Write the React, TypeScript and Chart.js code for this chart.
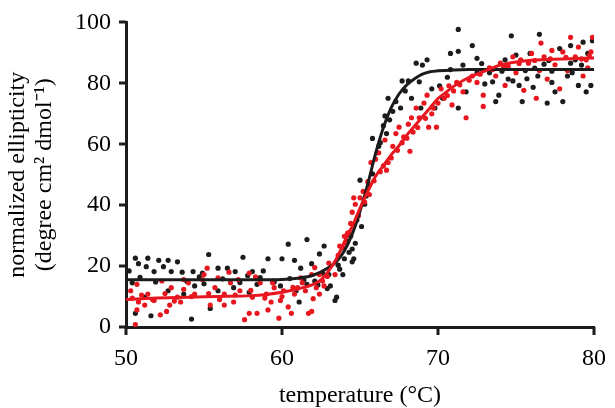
import React, { useEffect, useRef } from "react";
import { Chart, registerables } from "chart.js";

Chart.register(...registerables);

// ---- data ----
const xTicks = [50, 60, 70, 80];
const yTicks = [0, 20, 40, 60, 80, 100];

const blackTemps = [
  50.2, 50.6, 50.8, 51.4, 52.1, 52.7, 53.3, 51.3, 51.8, 52.4, 52.9, 53.6, 55.3, 54.3, 54.9, 55.9, 56.5, 57.0,
  57.5, 58.1, 58.8, 59.1, 60.0, 60.4, 60.8, 61.6, 61.2, 61.9, 62.4, 62.7, 50.4, 50.6, 51.6, 54.2, 55.4, 51.2,
  52.7, 53.7, 54.4, 55.9, 56.9, 57.9, 58.4, 59.4, 59.9, 60.9, 61.1, 61.6, 62.1, 62.6, 63.0, 63.1, 63.4, 63.5,
  63.6, 63.9, 64.0, 64.4, 64.5, 64.6, 64.2, 64.5, 64.8, 65.0, 65.3, 65.6, 65.8, 65.8, 66.1, 66.2, 66.5, 66.7,
  66.8, 66.6, 67.1, 67.3, 67.6, 67.7, 68.1, 68.6, 68.3, 68.9, 69.3, 69.6, 69.8, 70.1, 70.8, 70.3, 71.3, 71.3,
  70.8, 71.3, 71.8, 72.2, 72.5, 73.0, 73.3, 73.7, 73.9, 74.3, 74.5, 74.7, 75.0, 75.2, 75.4, 75.6, 75.9, 76.1,
  76.4, 76.5, 76.8, 77.0, 77.3, 77.5, 77.8, 78.0, 78.3, 78.5, 78.8, 79.0, 79.3, 79.5, 79.8, 79.9, 79.6, 78.5,
  77.3, 74.8, 72.5, 53.9, 55.0, 56.2, 57.3, 58.6, 59.5, 60.5, 61.4, 62.3, 62.9, 57.8, 54.7, 51.9, 50.9, 63.7,
  64.3, 64.7, 65.1, 65.4, 66.3, 66.9, 67.9, 68.8, 69.0, 70.6, 71.6, 72.8, 73.5, 74.1, 76.2, 77.1, 78.6, 79.2,
  75.7,
];
const blackValues = [
  18.4, 22.6, 20.8, 22.6, 21.9, 21.9, 21.4, 19.8, 18.2, 19.8, 18.2, 18.0, 23.8, 18.2, 17.7, 19.3, 19.3, 18.2,
  22.9, 18.2, 18.4, 22.4, 22.4, 27.2, 21.9, 28.7, 19.3, 20.8, 24.0, 26.6, 14.5, 4.5, 3.7, 2.6, 6.1, 9.8,
  11.9, 10.8, 13.5, 11.9, 12.9, 11.4, 14.0, 15.1, 13.5, 11.9, 8.2, 14.0, 15.1, 17.7, 17.2, 13.5, 8.7, 9.8,
  20.3, 17.2, 22.4, 29.8, 21.4, 22.4, 28.2, 25.6, 35.1, 48.2, 40.3, 46.6, 50.3, 61.9, 57.2, 59.3, 66.1, 63.5,
  75.1, 69.3, 70.8, 74.0, 71.9, 80.8, 80.8, 86.6, 75.1, 71.9, 87.7, 78.2, 71.9, 79.2, 89.8, 75.1, 97.7, 90.5,
  84.5, 71.9, 77.2, 92.4, 88.2, 79.8, 83.5, 74.0, 76.1, 87.7, 81.4, 95.6, 89.3, 79.3, 74.0, 84.2, 89.8, 78.7,
  82.4, 96.1, 86.3, 73.5, 80.3, 77.2, 91.4, 74.0, 82.4, 92.4, 87.7, 79.3, 93.5, 77.2, 79.3, 94.0, 89.8, 86.6,
  84.0, 80.8, 83.5, 15.0, 14.2, 15.8, 14.6, 16.2, 14.8, 15.9, 15.4, 13.8, 12.6, 16.9, 16.5, 14.8, 16.3, 19.0,
  24.5, 27.5, 33.0, 43.0, 60.5, 68.0, 77.5, 80.5, 86.0, 82.0, 86.0, 86.5, 80.5, 84.0, 85.0, 87.5, 83.5, 86.0,
  81.5,
];

const redTemps = [
  50.6, 50.3, 50.7, 50.8, 51.2, 51.4, 51.8, 52.2, 52.6, 52.8, 52.9, 53.3, 53.7, 54.0, 54.4, 54.9, 55.2, 55.4,
  55.7, 55.9, 56.3, 56.7, 56.9, 57.3, 57.6, 57.9, 58.1, 58.4, 58.6, 59.0, 59.3, 59.5, 59.8, 59.9, 60.1, 60.4,
  60.6, 60.8, 61.0, 61.2, 61.5, 61.7, 61.9, 62.0, 62.2, 62.4, 62.6, 62.9, 62.4, 61.9, 57.9, 57.2, 55.0, 53.7,
  52.3, 50.7, 53.5, 56.3, 59.1, 59.4, 63.4, 63.6, 63.7, 64.0, 64.2, 64.4, 64.5, 64.6, 64.7, 65.0, 65.2, 65.5,
  65.7, 66.0, 66.2, 66.5, 66.6, 66.8, 67.1, 67.3, 67.5, 67.8, 68.1, 68.2, 68.3, 68.6, 68.8, 69.1, 69.3, 69.4,
  69.7, 69.9, 70.2, 70.4, 70.7, 70.9, 71.2, 71.6, 71.8, 72.2, 72.5, 72.9, 73.3, 73.7, 74.0, 74.3, 74.5, 74.8,
  75.0, 75.3, 75.5, 75.8, 76.0, 76.3, 76.5, 76.8, 77.0, 77.3, 77.5, 77.8, 78.0, 78.3, 78.5, 78.8, 79.0, 79.3,
  79.5, 79.8, 79.9, 79.6, 76.6, 72.9, 63.9, 64.1, 64.3, 64.9, 65.3, 65.6, 65.9, 66.3, 66.7, 67.0, 67.4, 67.7,
  68.0, 68.4, 68.7, 69.2, 69.6, 70.0, 70.6, 71.0, 71.4, 72.0, 72.7, 73.5, 74.2, 75.2, 76.2, 77.2, 78.2, 79.2,
  79.7, 50.4, 51.0, 51.7, 52.5, 53.1, 54.2, 55.3, 56.0, 57.0, 58.0, 58.9, 60.0, 60.7, 61.3, 62.7, 63.0, 62.1,
  58.3, 56.6,
];
const redValues = [
  0.8, 11.9, 14.0, 8.2, 7.2, 10.8, 8.7, 4.0, 5.1, 7.2, 12.9, 9.8, 12.4, 14.5, 10.8, 15.6, 19.3, 7.2,
  12.9, 16.1, 10.8, 14.5, 8.2, 11.9, 2.4, 4.5, 9.8, 4.5, 14.5, 10.8, 8.2, 12.9, 2.9, 8.7, 11.9, 6.6,
  4.5, 10.8, 12.9, 16.1, 11.9, 4.5, 5.1, 9.3, 12.9, 10.8, 15.1, 16.6, 17.2, 17.2, 17.7, 15.6, 17.2, 15.6,
  15.1, 5.6, 8.2, 7.2, 5.6, 14.5, 17.2, 23.5, 26.6, 29.8, 30.8, 34.0, 37.7, 42.4, 40.3, 42.4, 44.5, 47.7,
  54.0, 55.1, 57.2, 52.9, 61.4, 54.0, 59.3, 63.5, 65.6, 62.4, 66.6, 57.7, 68.7, 71.9, 68.7, 73.5, 76.1, 65.6,
  71.9, 65.6, 78.2, 75.1, 79.2, 72.9, 80.3, 77.2, 68.7, 82.4, 80.3, 76.1, 85.1, 82.4, 86.6, 79.3, 85.6, 88.7,
  83.5, 87.7, 77.7, 86.6, 89.8, 75.1, 84.2, 88.7, 81.4, 90.8, 86.1, 78.2, 90.3, 84.2, 95.1, 88.7, 91.9, 82.4,
  87.7, 90.3, 95.1, 85.1, 93.2, 72.4, 26.0, 27.5, 31.0, 36.5, 41.0, 43.5, 48.0, 51.0, 51.5, 55.5, 58.0, 60.5,
  62.0, 64.0, 65.5, 68.5, 70.0, 73.5, 76.0, 77.5, 79.5, 81.0, 83.0, 84.5, 85.5, 86.5, 87.5, 88.0, 88.5, 88.0,
  89.0, 9.5, 10.5, 9.0, 11.0, 8.5, 10.0, 11.0, 9.0, 10.5, 12.0, 9.5, 10.0, 13.0, 14.5, 13.5, 21.0, 19.5,
  16.5, 18.0,
];

const blackFitTemps = [50, 52, 54, 56, 58, 60, 61, 62, 63, 63.5, 64, 64.5, 65, 65.5, 66, 66.5, 67, 67.5, 68, 68.5, 69, 69.5, 70, 71, 72, 74, 76, 78, 80];
const blackFitValues = [15.5, 15.5, 15.5, 15.5, 15.5, 15.6, 16, 17, 19.5, 21.5, 25, 30.5, 38, 47, 57, 65.5, 72, 76.5, 79.5, 81.5, 83, 83.8, 84.1, 84.4, 84.5, 84.5, 84.5, 84.5, 84.5];

const redFitTemps = [50, 51, 52, 54, 56, 58, 59, 60, 61, 62, 62.5, 63, 63.5, 64, 64.5, 65, 65.5, 66, 66.5, 67, 67.5, 68, 68.5, 69, 69.5, 70, 70.5, 71, 72, 73, 74, 75, 76, 78, 80];
const redFitValues = [9.0, 9.3, 9.5, 9.8, 10.0, 10.3, 10.7, 11.4, 12.5, 14.0, 15.5, 18.5, 22.5, 28, 33, 39, 44.5, 49.5, 53, 56.5, 59.5, 63, 66, 69, 72, 75, 77, 79, 82, 84, 86, 87, 87.6, 88, 88.3];

const xTitle = "temperature (°C)";
const yTitle = ["normalized ellipticity", "(degree cm² dmol⁻¹)"];

const BLACK = "#1c1c1c";
const RED = "#e8171f";

function pairs(xs: number[], ys: number[]) {
  return xs.map((x, i) => ({ x, y: ys[i] }));
}

// draws outward tick marks at the scale's own tick pixels
const tickMarks = {
  id: "tickMarks",
  afterDraw(chart: any) {
    const { ctx, chartArea, scales } = chart;
    ctx.save();
    ctx.strokeStyle = BLACK;
    ctx.lineWidth = 3;
    ctx.lineCap = "butt";
    ctx.beginPath();
    for (const t of scales.x.ticks) {
      const px = Math.round(scales.x.getPixelForValue(t.value));
      ctx.moveTo(px, chartArea.bottom);
      ctx.lineTo(px, chartArea.bottom + 8);
    }
    for (const t of scales.y.ticks) {
      const py = Math.round(scales.y.getPixelForValue(t.value));
      ctx.moveTo(chartArea.left, py);
      ctx.lineTo(chartArea.left - 7, py);
    }
    ctx.stroke();
    ctx.restore();
  },
};

export default function App() {
  const ref = useRef<HTMLCanvasElement | null>(null);

  useEffect(() => {
    document.body.style.margin = "0";
    const canvas = ref.current;
    if (!canvas) return;
    const font = { family: "'Liberation Serif', 'Times New Roman', serif", size: 24 };
    const chart = new Chart(canvas, {
      type: "scatter",
      data: {
        datasets: [
          {
            data: pairs(blackTemps, blackValues),
            backgroundColor: BLACK,
            borderColor: BLACK,
            pointRadius: 2.6,
            borderWidth: 0,
            order: 4,
          },
          {
            data: pairs(redTemps, redValues),
            backgroundColor: RED,
            borderColor: RED,
            pointRadius: 2.6,
            borderWidth: 0,
            order: 3,
          },
          {
            data: pairs(blackFitTemps, blackFitValues),
            showLine: true,
            borderColor: BLACK,
            borderWidth: 3,
            pointRadius: 0,
            cubicInterpolationMode: "monotone",
            order: 2,
          },
          {
            data: pairs(redFitTemps, redFitValues),
            showLine: true,
            borderColor: RED,
            borderWidth: 3,
            pointRadius: 0,
            cubicInterpolationMode: "monotone",
            order: 1,
          },
        ] as any,
      },
      options: {
        animation: false,
        responsive: false,
        devicePixelRatio: 1,
        layout: { padding: { top: 11, right: 15, left: 0, bottom: 0 } },
        plugins: { legend: { display: false }, tooltip: { enabled: false } },
        scales: {
          x: {
            type: "linear",
            min: 50,
            max: 80,
            afterFit: (s: any) => {
              s.height = 81;
            },
            afterBuildTicks: (s: any) => {
              s.ticks = xTicks.map((v) => ({ value: v }));
            },
            grid: { display: false, drawOnChartArea: false, drawTicks: true, tickLength: 8 },
            border: { display: true, color: BLACK, width: 3 },
            ticks: { color: "#000", font, padding: 9, maxRotation: 0 },
            title: { display: true, text: xTitle, color: "#000", font: { ...font, lineHeight: 1.0 }, padding: { top: 0, bottom: 0 } },
          },
          y: {
            type: "linear",
            min: 0,
            max: 100,
            afterFit: (s: any) => {
              s.width = 126;
            },
            afterBuildTicks: (s: any) => {
              s.ticks = yTicks.map((v) => ({ value: v }));
            },
            grid: { display: false, drawOnChartArea: false, drawTicks: true, tickLength: 7 },
            border: { display: true, color: BLACK, width: 3 },
            ticks: { color: "#000", font, padding: 8 },
            title: { display: true, text: yTitle, color: "#000", font: { ...font, lineHeight: 1.1 }, padding: { top: 5, bottom: 0 } },
          },
        },
      } as any,
      plugins: [tickMarks],
    });
    return () => chart.destroy();
  }, []);

  return (
    <div style={{ position: "absolute", left: 0, top: 0, width: 615, height: 408, background: "#fff" }}>
      <canvas ref={ref} width={615} height={408} style={{ display: "block", width: 615, height: 408 }} />
    </div>
  );
}
